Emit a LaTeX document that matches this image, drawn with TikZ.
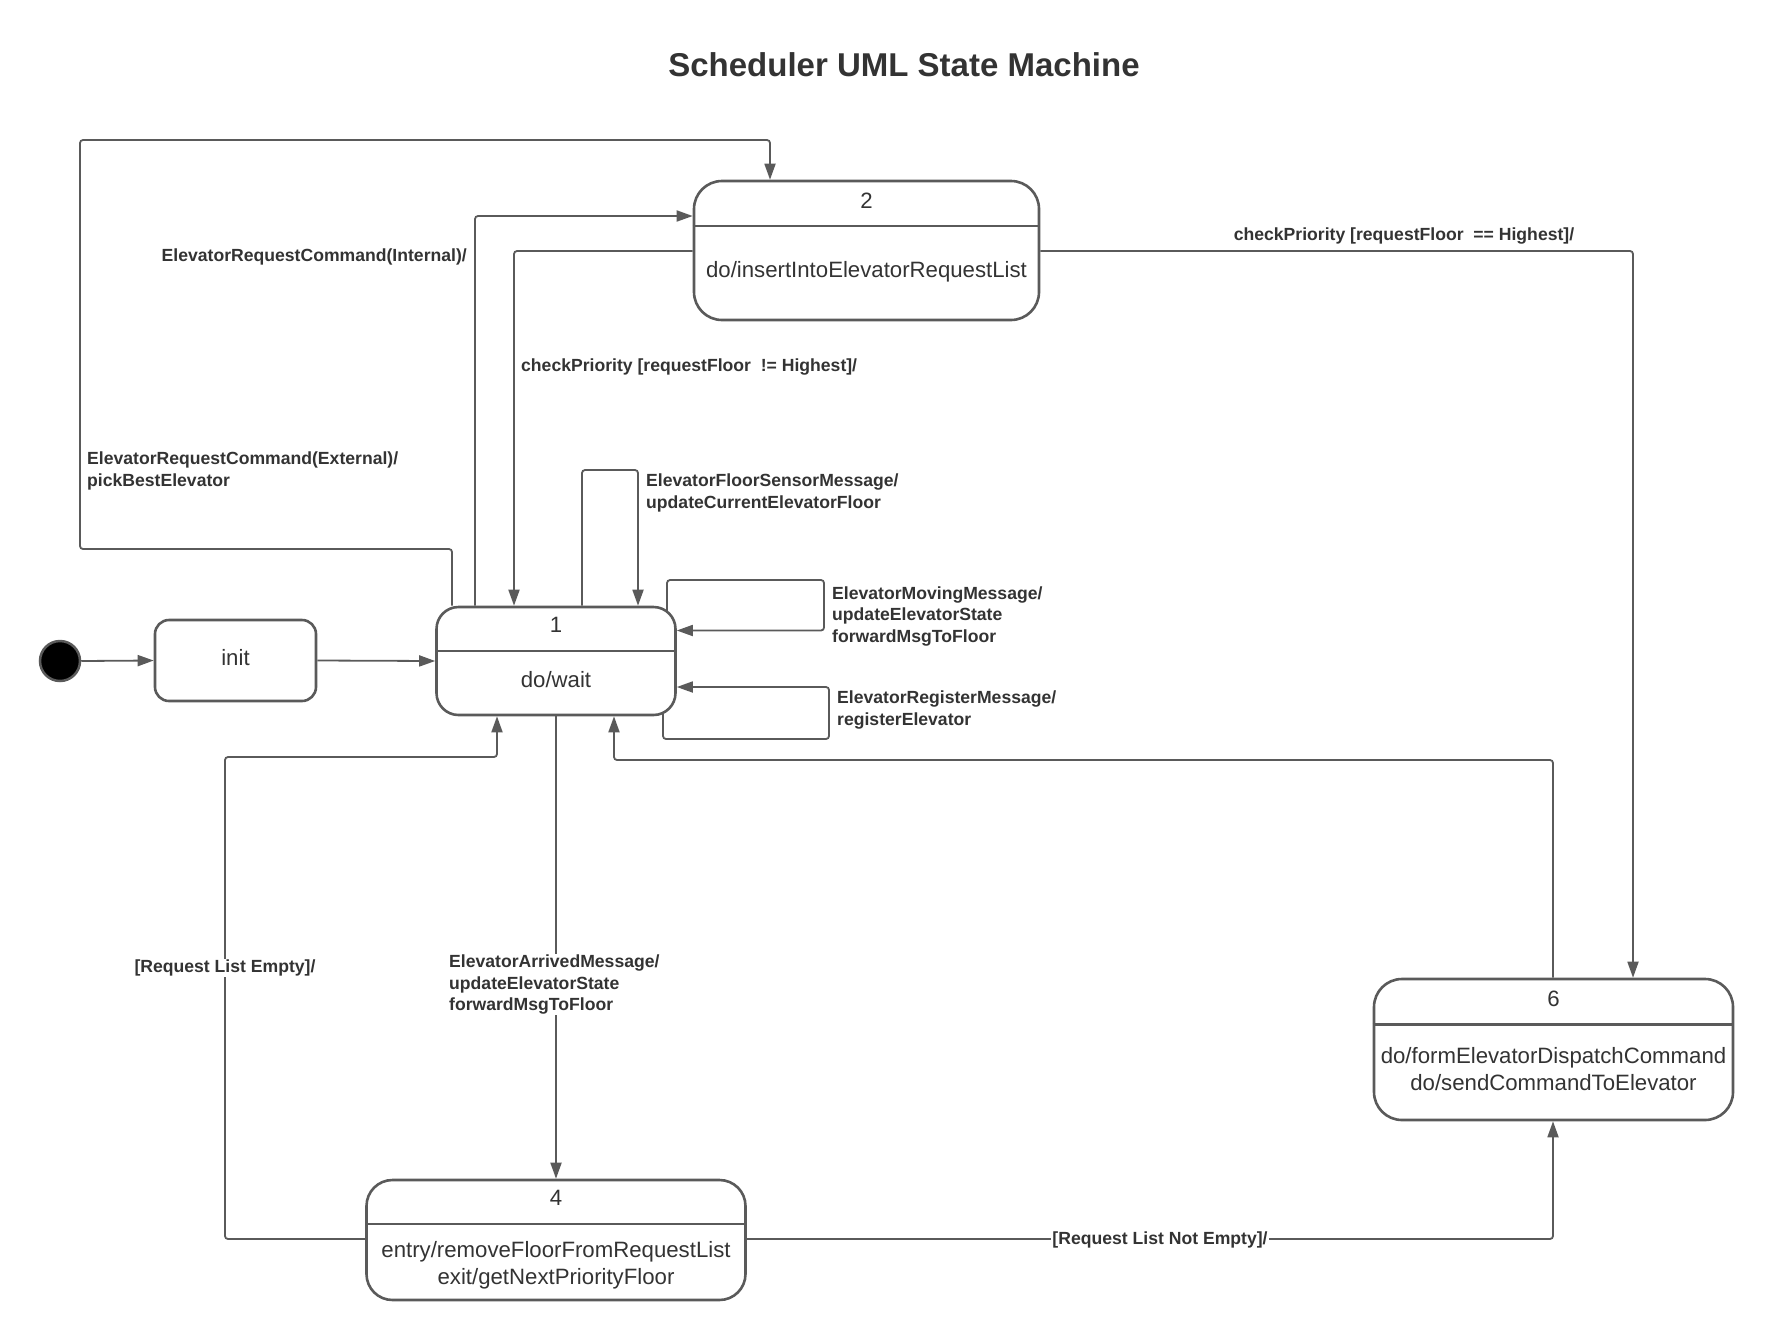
\documentclass[tikz,border=0pt]{standalone}
\usepackage{fontspec}
\setmainfont{Liberation Sans}
\usetikzlibrary{arrows.meta}
\definecolor{ln}{HTML}{5A5A5A}
\definecolor{tx}{HTML}{333333}
\begin{document}
\begin{tikzpicture}[x=1pt,y=-1pt,
  state/.style={draw=ln, line width=2.6pt, fill=white, inner sep=0pt},
  divider/.style={draw=ln, line width=2.6pt},
  conn/.style={draw=ln, line width=1.8pt, rounded corners=3pt, -{Triangle[length=16pt,width=11pt]}},
  lbl/.style={font=\fontsize{17.6}{21.5}\selectfont\bfseries, text=tx, align=left, inner sep=1pt},
  wlbl/.style={lbl, fill=white},
  stxt/.style={font=\fontsize{22.2}{27}\selectfont, text=tx, align=center, inner sep=0pt}]

\useasboundingbox (0,0) rectangle (1775,1339);

% title
\node[font=\fontsize{33}{38}\selectfont\bfseries, text=tx] (title) at (904,65) {Scheduler UML State Machine};

% states
\node[circle, fill=black, draw=ln, line width=2.5pt, minimum size=40pt, inner sep=0pt] (start) at (60,661) {};
\node[state, rounded corners=14pt, minimum width=161pt, minimum height=81pt] (init) at (235.5,660.5) {};
\node[stxt] (initT) at (235.5,658) {init};

\node[state, rounded corners=22pt, minimum width=239pt, minimum height=108pt] (s1) at (556,661) {};
\draw[divider] (s1.west |- 0,651) -- (s1.east |- 0,651);
\node[stxt] (s1a) at (556,625) {1};
\node[stxt] (s1b) at (556,680) {do/wait};

\node[state, rounded corners=28pt, minimum width=345pt, minimum height=139pt] (s2) at (866.5,250.5) {};
\draw[divider] (s2.west |- 0,226) -- (s2.east |- 0,226);
\node[stxt] (s2a) at (866.5,201) {2};
\node[stxt] (s2b) at (866.5,272) {do/insertIntoElevatorRequestList};

\node[state, rounded corners=26pt, minimum width=379pt, minimum height=120pt] (s4) at (556,1240) {};
\draw[divider] (s4.west |- 0,1224) -- (s4.east |- 0,1224);
\node[stxt] (s4a) at (556,1198) {4};
\node[stxt] (s4b) at (556,1265) {entry/removeFloorFromRequestList\\exit/getNextPriorityFloor};

\node[state, rounded corners=28pt, minimum width=359pt, minimum height=141pt] (s6) at (1553.5,1049.5) {};
\draw[divider] (s6.west |- 0,1024.5) -- (s6.east |- 0,1024.5);
\node[stxt] (s6a) at (1553.5,998.5) {6};
\node[stxt] (s6b) at (1553.5,1069) {do/formElevatorDispatchCommand\\do/sendCommandToElevator};

% connectors
\draw[conn] (start.east) -- (init.west);
\draw[conn] (init.east) -- (s1.west);

% external request
\draw[conn] (452,0 |- s1.north) -- (452,549) -- (80,549) -- (80,140) -- (770,140) -- (770,0 |- s2.north);
\node[lbl, anchor=west] (lExt) at (86,471) {ElevatorRequestCommand(External)/\\pickBestElevator};

% internal request
\draw[conn] (475,0 |- s1.north) -- (475,216) -- (s2.west |- 0,216);
\node[lbl, anchor=east] (lInt) at (468,257) {ElevatorRequestCommand(Internal)/};

% priority != highest
\draw[conn] (s2.west |- 0,251) -- (514,251) -- (514,0 |- s1.north);
\node[lbl, anchor=west] (lNe) at (520,366.5) {checkPriority [requestFloor\ \ != Highest]/};

% floor sensor self loop
\draw[conn] (582,0 |- s1.north) -- (582,470) -- (638,470) -- (638,0 |- s1.north);
\node[lbl, anchor=west] (lSens) at (645,493) {ElevatorFloorSensorMessage/\\updateCurrentElevatorFloor};

% moving self loop
\coordinate (mvS) at (667,612);
\draw[conn] (mvS) -- (667,580) -- (824,580) -- (824,630.5) -- (s1.east |- 0,630.5);
\node[lbl, anchor=west] (lMov) at (831,616) {ElevatorMovingMessage/\\updateElevatorState\\forwardMsgToFloor};

% register self loop
\coordinate (rgS) at (663,712);
\draw[conn] (rgS) -- (663,739) -- (829,739) -- (829,687) -- (s1.east |- 0,687);
\node[lbl, anchor=west] (lReg) at (836,710) {ElevatorRegisterMessage/\\registerElevator};

% arrived
\draw[conn] (s1.south) -- (s4.north);
\node[wlbl, anchor=west] (lArr) at (448,984.5) {ElevatorArrivedMessage/\\updateElevatorState\\forwardMsgToFloor};

% request list empty
\draw[conn] (s4.west |- 0,1239) -- (225,1239) -- (225,757) -- (497,757) -- (497,0 |- s1.south);
\node[wlbl] (lEmpty) at (225,968) {[Request List Empty]/};

% request list not empty
\draw[conn] (s4.east |- 0,1239) -- (1553,1239) -- (1553,0 |- s6.south);
\node[wlbl] (lNotEmpty) at (1160,1239.5) {[Request List Not Empty]/};

% 6 -> 1
\draw[conn] (1553,0 |- s6.north) -- (1553,760) -- (614,760) -- (614,0 |- s1.south);

% priority == highest
\draw[conn] (s2.east |- 0,251) -- (1633,251) -- (1633,0 |- s6.north);
\node[lbl] (lEq) at (1404,236) {checkPriority [requestFloor\ \ == Highest]/};

\end{tikzpicture}
\end{document}
